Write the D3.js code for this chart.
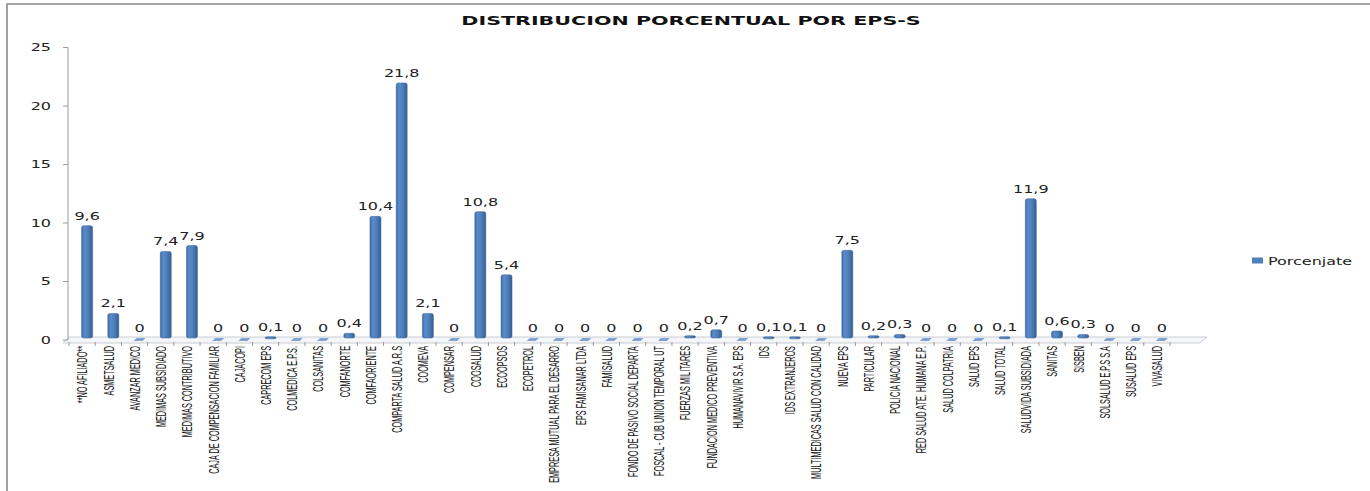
<!DOCTYPE html>
<html>
<head>
<meta charset="utf-8">
<script src="https://cdn.jsdelivr.net/npm/d3@7/dist/d3.min.js"></script>
<style>
  html, body { margin: 0; padding: 0; background: #fff; }
  svg { display: block; }
</style>
</head>
<body>
<svg id="chart" width="1370" height="491"></svg>
<script>
const title = "DISTRIBUCION PORCENTUAL POR EPS-S";
const seriesName = "Porcenjate";
const categories = [
  "**NO AFILIADO**", "ASMETSALUD", "AVANZAR MEDICO", "MEDIMAS SUBSIDIADO", "MEDIMAS CONTRIBUTIVO",
  "CAJA DE COMPENSACION FAMILIAR", "CAJACOPI", "CAPRECOM EPS", "COLMEDICA E.P.S.", "COLSANITAS",
  "COMFANORTE", "COMFAORIENTE", "COMPARTA SALUD A.R.S", "COOMEVA", "COMPENSAR",
  "COOSALUD", "ECOOPSOS", "ECOPETROL", "EMPRESA MUTUAL PARA EL DESARRO", "EPS FAMISANAR LTDA",
  "FAMISALUD", "FONDO DE PASIVO SOCIAL DEPARTA", "FOSCAL - CUB UNION TEMPORAL UT", "FUERZAS MILITARES", "FUNDACION MEDICO PREVENTIVA",
  "HUMANAVIVIR S.A. EPS", "IDS", "IDS EXTRANJEROS", "MULTIMEDICAS SALUD CON CALIDAD", "NUEVA EPS",
  "PARTICULAR", "POLICIA NACIONAL", "RED SALUD ATE. HUMANA E.P.", "SALUD COLPATRIA", "SALUD EPS",
  "SALUD TOTAL", "SALUDVIDA SUBSIDIADA", "SANITAS", "SISBEN", "SOLSALUD E.P.S S.A",
  "SUSALUD EPS", "VIVASALUD"
];
const values = [
  9.6, 2.1, 0, 7.4, 7.9,
  0, 0, 0.1, 0, 0,
  0.4, 10.4, 21.8, 2.1, 0,
  10.8, 5.4, 0, 0, 0,
  0, 0, 0, 0.2, 0.7,
  0, 0.1, 0.1, 0, 7.5,
  0.2, 0.3, 0, 0, 0,
  0.1, 11.9, 0.6, 0.3, 0,
  0, 0
];
const yTicks = [0, 5, 10, 15, 20, 25];

const data = categories.map((c, i) => ({ cat: c, val: values[i] }));
const svg = d3.select("#chart");
const SX = 1.6; // horizontal stretch of the original picture

// frame (top & left)
svg.append("path").attr("d", "M7,1000 L7,4 L1400,4").attr("fill", "none")
  .attr("stroke", "#8a8a8a").attr("stroke-width", 1.6);

const x = d3.scaleBand().domain(categories).range([69, 1170]).paddingInner(0).paddingOuter(0);
const y = d3.scaleLinear().domain([0, 25]).range([340, 47.5]);
const depthX = 5, depthY = 2;

const defs = svg.append("defs");
const grad = defs.append("linearGradient").attr("id", "barGrad").attr("x1", "0").attr("x2", "1").attr("y1", "0").attr("y2", "0");
[["0%", "#3b6aa6"], ["25%", "#5b8bc9"], ["55%", "#4f81bd"], ["100%", "#365f93"]].forEach(([o, c]) =>
  grad.append("stop").attr("offset", o).attr("stop-color", c));

// floor (3D)
const fx0 = x.range()[0], fx1 = x.range()[1];
svg.append("path")
  .attr("d", `M${fx0 - 6},${y(0) + 3} L${fx1 + 30},${y(0) + 3} L${fx1 + 37},${y(0) - 3} L${fx0},${y(0) - 3} Z`)
  .attr("fill", "#f4f6f9").attr("stroke", "#c8ccd2").attr("stroke-width", 1);

// y axis
const gy = svg.append("g").attr("transform", `translate(68,0)`);
gy.append("line").attr("x1", 0).attr("x2", 0).attr("y1", y(25)).attr("y2", y(0)).attr("stroke", "#9a9a9a").attr("stroke-width", 1);
gy.selectAll(".tk").data(yTicks).join("line")
  .attr("x1", -5).attr("x2", 0).attr("y1", d => y(d)).attr("y2", d => y(d))
  .attr("stroke", "#9a9a9a");
gy.selectAll(".tl").data(yTicks).join("text")
  .attr("transform", d => `translate(-17,${y(d) + 3.5}) scale(${SX},1)`)
  .attr("text-anchor", "end")
  .attr("font-family", "DejaVu Sans, Verdana, sans-serif").attr("font-size", 10).attr("fill", "#222")
  .text(d => d);

// x ticks
svg.selectAll(".xt").data(categories.concat(["__end"])).join("line")
  .attr("x1", (d, i) => x.range()[0] + i * x.bandwidth())
  .attr("x2", (d, i) => x.range()[0] + i * x.bandwidth())
  .attr("y1", y(0) + 2).attr("y2", y(0) + 6)
  .attr("stroke", "#9a9a9a");

// bars
const bw = 11;
const bars = svg.append("g");
bars.selectAll("rect").data(data.filter(d => d.val > 0)).join("rect")
  .attr("x", d => x(d.cat) + x.bandwidth() / 2 + depthX - bw / 2)
  .attr("y", d => y(d.val) - depthY)
  .attr("width", bw)
  .attr("height", d => Math.max(2, y(0) - y(d.val)))
  .attr("rx", 2).attr("ry", 2)
  .attr("fill", "url(#barGrad)")
  .attr("stroke", "#3a6397").attr("stroke-width", 0.5);

// zero bars (flat)
bars.selectAll("path.zero").data(data.filter(d => d.val === 0)).join("path")
  .attr("class", "zero")
  .attr("d", d => {
    const cx = x(d.cat) + x.bandwidth() / 2 + depthX;
    const b = y(0);
    return `M${cx - 6},${b + 1} L${cx + 3},${b + 1} L${cx + 6},${b - 2} L${cx - 3},${b - 2} Z`;
  })
  .attr("fill", "#7ea3d3");

// data labels
svg.append("g").selectAll("text").data(data).join("text")
  .attr("transform", d => `translate(${x(d.cat) + x.bandwidth() / 2 + depthX},${y(d.val) - depthY - 6}) scale(${SX},1)`)
  .attr("text-anchor", "middle")
  .attr("font-family", "DejaVu Sans, Verdana, sans-serif").attr("font-size", 10).attr("fill", "#222")
  .text(d => String(d.val).replace(".", ","));

// category labels (condensed along their length)
const catLabels = svg.append("g").selectAll("text").data(categories).join("text")
  .attr("text-anchor", "end")
  .attr("dy", "0.35em")
  .attr("font-family", "Liberation Sans, Arial, sans-serif").attr("font-size", 9.5).attr("fill", "#111")
  .text(d => d);
const refLen = catLabels.nodes()[5].getComputedTextLength();
const k = 128 / refLen;
catLabels.attr("transform", d => `translate(${x(d) + x.bandwidth() / 2},${y(0) + 6}) scale(${SX},1) rotate(-90) scale(${k},1)`);

// title
svg.append("text")
  .attr("transform", `translate(691,25) scale(1.72,1)`)
  .attr("text-anchor", "middle")
  .attr("font-family", "DejaVu Sans, Verdana, sans-serif").attr("font-weight", "bold").attr("font-size", 12)
  .attr("fill", "#111")
  .text(title);

// legend
svg.append("rect").attr("x", 1252).attr("y", 257.5).attr("width", 11).attr("height", 6).attr("fill", "#4f81bd");
svg.append("text")
  .attr("transform", `translate(1268,264.5) scale(${SX},1)`)
  .attr("font-family", "DejaVu Sans, Verdana, sans-serif").attr("font-size", 10).attr("fill", "#222")
  .text(seriesName);
</script>
</body>
</html>
